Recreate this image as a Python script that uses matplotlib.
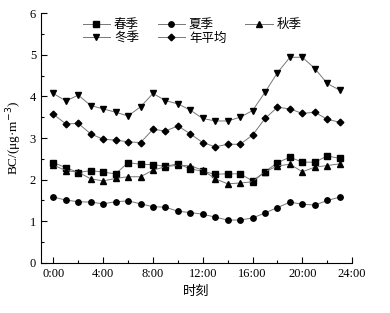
import matplotlib
matplotlib.use("Agg")
import matplotlib.pyplot as plt
from matplotlib.ticker import MultipleLocator, FixedLocator

hours = list(range(24))
spring = [2.41, 2.29, 2.17, 2.22, 2.18, 2.14, 2.41, 2.37, 2.36, 2.32, 2.38, 2.26,
          2.20, 2.13, 2.14, 2.14, 1.97, 2.19, 2.41, 2.54, 2.42, 2.42, 2.57, 2.51]
summer = [1.58, 1.51, 1.47, 1.46, 1.42, 1.47, 1.49, 1.42, 1.35, 1.34, 1.24, 1.21,
          1.17, 1.10, 1.03, 1.03, 1.08, 1.20, 1.33, 1.46, 1.41, 1.39, 1.50, 1.58]
autumn = [2.35, 2.22, 2.18, 2.02, 1.97, 2.03, 2.07, 2.07, 2.23, 2.31, 2.35, 2.33,
          2.23, 2.02, 1.90, 1.92, 1.95, 2.19, 2.33, 2.37, 2.19, 2.30, 2.34, 2.38]
winter = [4.07, 3.89, 4.03, 3.78, 3.70, 3.62, 3.53, 3.75, 4.07, 3.90, 3.82, 3.67,
          3.47, 3.41, 3.41, 3.50, 3.66, 4.10, 4.57, 4.94, 4.94, 4.67, 4.31, 4.15]
annual = [3.57, 3.34, 3.35, 3.10, 2.97, 2.95, 2.91, 2.89, 3.21, 3.17, 3.29, 3.10,
          2.89, 2.79, 2.85, 2.85, 3.07, 3.47, 3.74, 3.70, 3.59, 3.62, 3.45, 3.38]
names = ["春季", "夏季", "秋季", "冬季", "年平均"]
markers = ["s", "o", "^", "v", "D"]
xtick_vals = [0, 4, 8, 12, 16, 20, 24]
xtick_labels = ["0:00", "4:00", "8:00", "12:00", "16:00", "20:00", "24:00"]

serif = ["Liberation Serif", "Noto Sans CJK SC"]
cjk = ["Noto Sans CJK SC", "Liberation Serif"]
plt.rcParams["font.family"] = serif

fig = plt.figure(figsize=(3.9, 3.13), dpi=100)
ax = fig.add_axes([0.105, 0.160, 0.798, 0.798])

series = [spring, summer, autumn, winter, annual]
handles = []
for s, n, m in zip(series, names, markers):
    ms = 3.9 if m != "D" else 3.4
    h, = ax.plot(hours, s, color="#777777", lw=0.7, marker=m, ms=ms,
                 mfc="black", mec="black", label=n)
    handles.append(h)

ax.set_xlim(-1, 24)
ax.set_ylim(0, 6)
ax.xaxis.set_major_locator(FixedLocator(xtick_vals))
ax.set_xticklabels(xtick_labels)
ax.xaxis.set_minor_locator(FixedLocator([2, 6, 10, 14, 18, 22]))
ax.yaxis.set_major_locator(MultipleLocator(1))
ax.yaxis.set_minor_locator(MultipleLocator(0.5))
ax.tick_params(which="both", direction="in", labelsize=9, top=False, right=False,
               color="black", width=0.8)
ax.tick_params(which="major", length=4)
ax.tick_params(which="minor", length=2.5)
for sp in ["top", "right"]:
    ax.spines[sp].set_visible(False)
for sp in ["left", "bottom"]:
    ax.spines[sp].set_linewidth(0.8)

ax.set_xlabel("时刻", fontsize=9.5, family=cjk, labelpad=4)
ax.set_ylabel("BC/(μg·m$^{-3}$)", fontsize=9.5, labelpad=4)

order = [0, 3, 1, 4, 2]
leg = ax.legend([handles[i] for i in order], [names[i] for i in order], ncol=3,
                loc="upper left", bbox_to_anchor=(0.11, 1.01), frameon=False,
                prop={"family": cjk, "size": 9}, handlelength=2.2,
                handletextpad=0.3, columnspacing=1.5, labelspacing=0.05,
                borderaxespad=0.2)

fig.savefig("out.png", dpi=100, facecolor="white")
